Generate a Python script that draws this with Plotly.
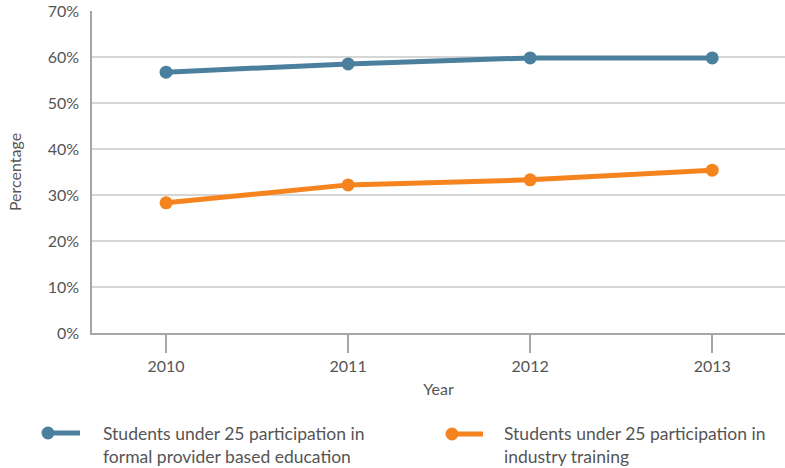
import plotly.graph_objects as go

years = [2010, 2011, 2012, 2013]
formal = [56.7, 58.5, 59.8, 59.8]
industry = [28.3, 32.2, 33.3, 35.4]
names = ["Students under 25 participation in<br>formal provider based education",
         "Students under 25 participation in<br>industry training"]
y_ticks = [0, 10, 20, 30, 40, 50, 60, 70]
y_labels = [f"{v}%" for v in y_ticks]

BLUE = "#4a7f9e"
ORANGE = "#f5841f"
GRID = "#d6d6d6"
AXIS = "#a6a6a6"
TXT = "#555555"
FONT = "Lato"

W, H = 785, 468

fig = go.Figure()
for vals, name, col in [(formal, names[0], BLUE), (industry, names[1], ORANGE)]:
    fig.add_trace(go.Scatter(x=years, y=vals, name=name, mode="lines+markers",
                             line=dict(color=col, width=5),
                             marker=dict(color=col, size=13), showlegend=False))

# plot area in page pixels
plot_l, plot_r, plot_t, plot_b = 92, 785, 11, 333

fig.update_layout(
    width=W, height=H,
    margin=dict(l=plot_l, r=W - plot_r, t=plot_t, b=H - plot_b, autoexpand=False),
    paper_bgcolor="white", plot_bgcolor="white",
    font=dict(family=FONT, color=TXT, size=16),
    showlegend=False,
    xaxis=dict(range=[2009.593, 2013.40], tickvals=years, ticktext=[str(y) for y in years],
               showgrid=False, zeroline=False, showline=True, linecolor=AXIS, linewidth=1.5,
               ticks="outside", ticklen=18, tickcolor=AXIS, tickwidth=1.5,
               tickfont=dict(size=16, color=TXT), automargin=False,
               title=dict(text="Year", font=dict(size=16, color=TXT), standoff=10)),
    yaxis=dict(range=[0, 70], tickvals=y_ticks, ticktext=y_labels,
               showgrid=True, gridcolor=GRID, gridwidth=1.5, zeroline=False,
               showline=True, linecolor=AXIS, linewidth=1.5, automargin=False,
               ticks="", tickfont=dict(size=16, color=TXT), ticklabelstandoff=8,
               title=dict(text="Percentage", font=dict(size=16, color=TXT), standoff=22)),
)

def xp(x): return (x - plot_l) / (plot_r - plot_l)
def yp(y): return (plot_b - y) / (plot_b - plot_t)

legend_items = [
    (BLUE, 48, 80, 433, 101, names[0]),
    (ORANGE, 452, 483, 434, 502, names[1]),
]
for col, cx, x2, cy, tx, txt in legend_items:
    fig.add_shape(type="line", xref="paper", yref="paper",
                  x0=xp(cx), x1=xp(x2), y0=yp(cy), y1=yp(cy),
                  line=dict(color=col, width=5))
    fig.add_shape(type="circle", xref="paper", yref="paper",
                  x0=xp(cx - 6.5), x1=xp(cx + 6.5), y0=yp(cy - 6.5), y1=yp(cy + 6.5),
                  fillcolor=col, line=dict(color=col, width=0))
    fig.add_annotation(xref="paper", yref="paper", x=xp(tx), y=yp(421),
                       xanchor="left", yanchor="top", showarrow=False, align="left",
                       text=txt, font=dict(size=17.5, color=TXT, family=FONT))

fig.write_html("out.html", config={"displayModeBar": False},
               post_script="document.body.style.margin='0';document.body.style.padding='0';")
